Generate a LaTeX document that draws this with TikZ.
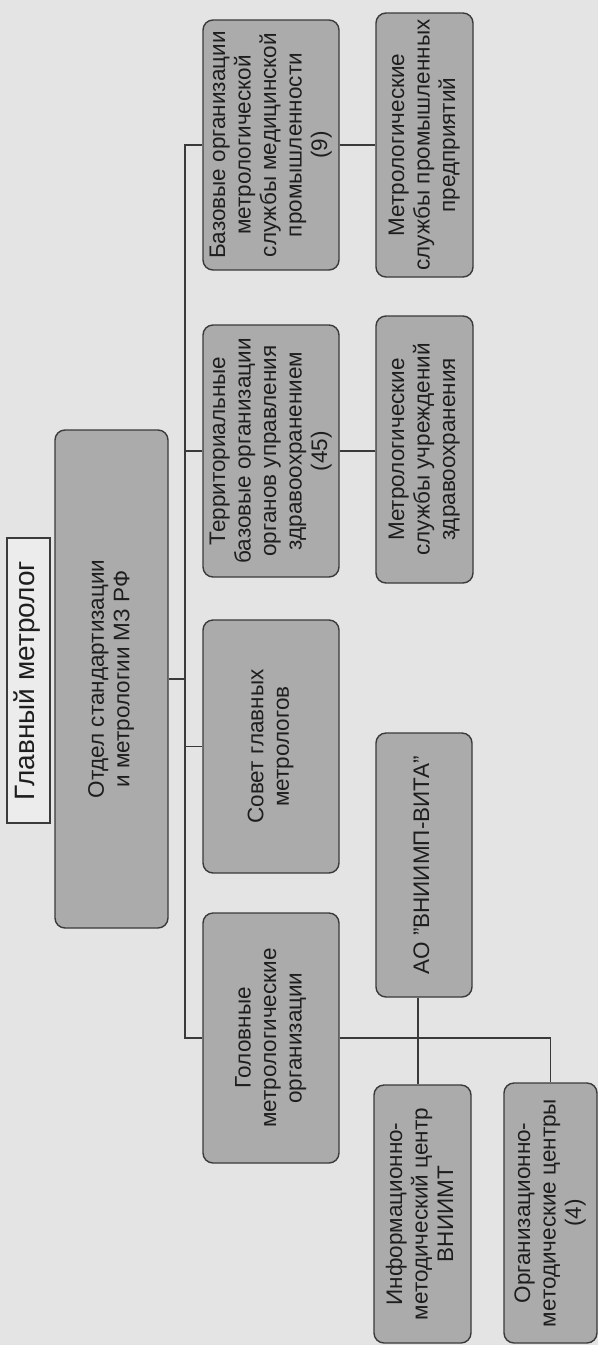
\documentclass[tikz,border=0pt]{standalone}
\usepackage{fontspec}
\setmainfont{Liberation Sans}
\usepackage{graphicx}
\definecolor{bgc}{HTML}{E4E4E4}
\definecolor{boxfill}{HTML}{ABABAB}
\definecolor{lightfill}{HTML}{ECECEC}
\definecolor{linec}{HTML}{3A3A3A}
\definecolor{txtc}{HTML}{1E1E1E}
\newcommand{\mylines}[1]{\rotatebox{90}{\begin{tabular}{@{}c@{}}#1\end{tabular}}}
\begin{document}
\begin{tikzpicture}[x=1pt,y=1pt,
  box/.style={draw=linec, line width=1.4pt, fill=boxfill, rounded corners=10pt,
    inner sep=0pt, text=txtc, font=\fontsize{22.5}{25.5}\selectfont},
  headbox/.style={draw=linec, line width=1.2pt, fill=lightfill, inner sep=0pt,
    text=txtc, font=\fontsize{28}{32}\selectfont},
  conn/.style={draw=linec, line width=1.3pt}]
\useasboundingbox (0,0) rectangle (598,-1345);
\fill[bgc] (0,0) rectangle (598,-1345);

% head
\node[headbox, minimum width=43, minimum height=285] (glav) at (28.5,-680.5)
  {\mylines{Главный метролог}};
\node[box, minimum width=113, minimum height=498] (otdel) at (111.5,-679)
  {\mylines{Отдел стандартизации\\и метрологии МЗ РФ}};

% column 2
\node[box, minimum width=136, minimum height=250] (baz) at (271,-145)
  {\mylines{Базовые организации\\метрологической\\службы медицинской\\промышленности\\(9)}};
\node[box, minimum width=136, minimum height=252] (terr) at (271,-451)
  {\mylines{Территориальные\\базовые организации\\органов управления\\здравоохранением\\(45)}};
\node[box, minimum width=136, minimum height=253] (sovet) at (271,-746.5)
  {\mylines{Совет главных\\метрологов}};
\node[box, minimum width=136, minimum height=250] (golov) at (271,-1038)
  {\mylines{Головные\\метрологические\\организации}};

% column 3
\node[box, minimum width=97, minimum height=264] (mprom) at (424.5,-145)
  {\mylines{Метрологические\\службы промышленных\\предприятий}};
\node[box, minimum width=97, minimum height=267] (muchr) at (424.5,-449.5)
  {\mylines{Метрологические\\службы учреждений\\здравоохранения}};
\node[box, minimum width=96, minimum height=264] (ao) at (424,-865)
  {\mylines{АО "ВНИИМП-ВИТА"}};
\node[box, minimum width=97, minimum height=258] (inf) at (422.5,-1214)
  {\mylines{Информационно-\\методический центр\\ВНИИМТ}};
\node[box, minimum width=93, minimum height=260] (org) at (550.5,-1213)
  {\mylines{Организационно-\\методические центры\\(4)}};

% connectors
\coordinate (busx) at (185,0);
\coordinate (vx) at (418,0);
\draw[conn] (baz.west) -- (baz.west -| busx) -- (golov.west -| busx) -- (golov.west);
\draw[conn] (terr.west) -- (terr.west -| busx);
\draw[conn] (sovet.west) -- (sovet.west -| busx);
\draw[conn] (otdel.east) -- (otdel.east -| busx);
\draw[conn] (baz.east) -- (baz.east -| mprom.west);
\draw[conn] (terr.east) -- (terr.east -| muchr.west);
\draw[conn] (golov.east) -| (org.north);
\draw[conn] (ao.south -| vx) -- (inf.north -| vx);
\end{tikzpicture}
\end{document}
